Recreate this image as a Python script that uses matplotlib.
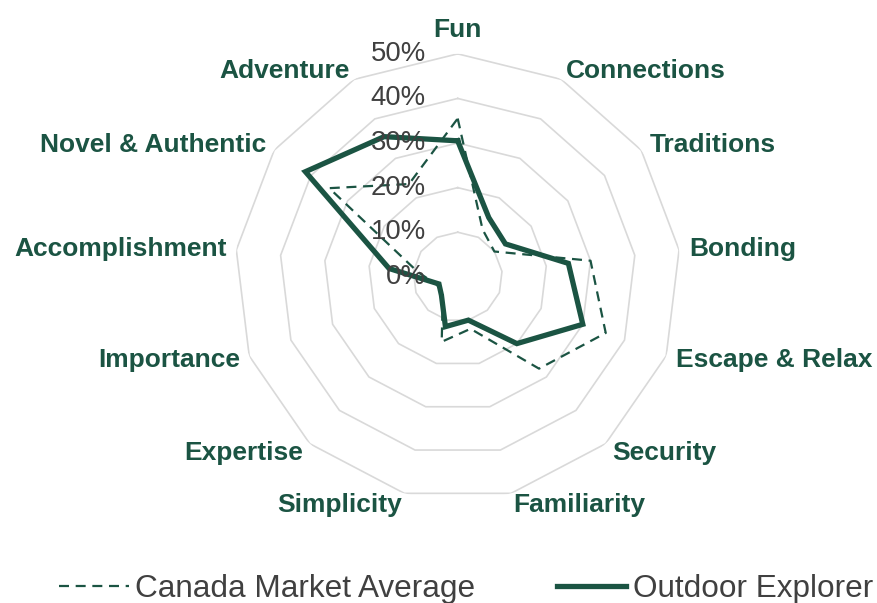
import numpy as np
import matplotlib.pyplot as plt

plt.rcParams['font.family'] = ['Liberation Sans', 'DejaVu Sans']

# data (percent)
categories = ["Fun", "Connections", "Traditions", "Bonding", "Escape & Relax",
              "Security", "Familiarity", "Simplicity", "Expertise", "Importance",
              "Accomplishment", "Novel & Authentic", "Adventure"]
canada_avg = [35.5, 12, 10, 30, 35.5, 27.5, 12, 15, 5, 5, 9, 35, 23.5]
outdoor_explorer = [30.5, 15, 13, 25, 30, 20, 10, 11.5, 5.5, 4.5, 15.5, 41.5, 35.5]
ring_values = [10, 20, 30, 40, 50]
tick_values = [0, 10, 20, 30, 40, 50]

green = "#1B5443"
grey_txt = "#404040"
grid_col = "#D9D9D9"

n = len(categories)
angles = np.linspace(0, 2 * np.pi, n, endpoint=False)
ang_closed = np.append(angles, angles[0])

fig = plt.figure(figsize=(8.78, 6.03), dpi=100)
ax = fig.add_axes([0.2673, 0.1711, 0.508, 0.7396], projection='polar')
ax.set_theta_zero_location('N')
ax.set_theta_direction(-1)
ax.set_ylim(0, 50)
ax.grid(False)
ax.spines['polar'].set_visible(False)
ax.set_xticks([])
ax.set_yticks([])
ax.patch.set_alpha(0)

# polygon rings
for r in ring_values:
    ax.plot(ang_closed, [r] * (n + 1), color=grid_col, lw=1.2, zorder=1)

def closed(vals):
    return list(vals) + [vals[0]]

l1, = ax.plot(ang_closed, closed(canada_avg), color=green, lw=1.6,
              dashes=(4.5, 3), label="Canada Market Average", zorder=3)
l2, = ax.plot(ang_closed, closed(outdoor_explorer), color=green, lw=3.8,
              label="Outdoor Explorer", zorder=4, solid_joinstyle='miter')

# radial tick labels
for v in tick_values:
    ax.annotate(f"{v}%", xy=(0, v), xytext=(-23, 0), textcoords='offset points',
                ha='right', va='center', fontsize=19.8, color=grey_txt, zorder=6)

# category labels, just outside the outer ring vertices
for a, name in zip(angles, categories):
    s, c = np.sin(a), np.cos(a)
    if abs(s) < 0.1:
        ha, va, off = 'center', 'bottom', (0, 12)
    else:
        ha = 'left' if s > 0 else 'right'
        va = 'center'
        off = (10 * s, 9 * c if c > 0 else 12 * c)
    ax.annotate(name, xy=(a, 50), xytext=off, textcoords='offset pixels',
                ha=ha, va=va, fontsize=19, fontweight='bold', color=green)

fig.legend(handles=[l1, l2], loc='center', bbox_to_anchor=(466 / 878, 1 - 589 / 603),
           ncol=2, frameon=False, fontsize=22.7, labelcolor=grey_txt,
           handlelength=2.2, handletextpad=0.2, columnspacing=2.6)

fig.savefig("out.png", dpi=100)
